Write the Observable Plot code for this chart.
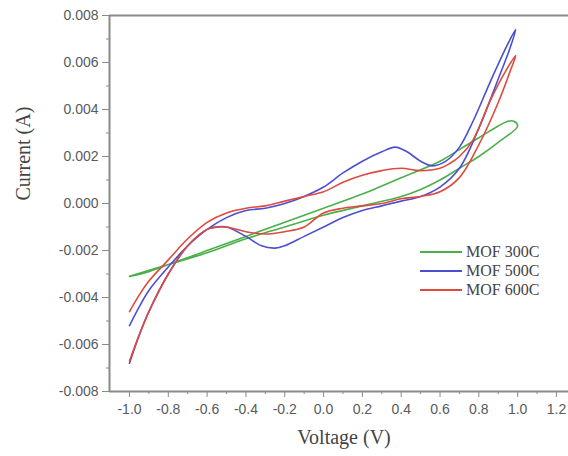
<!DOCTYPE html>
<html><head><meta charset="utf-8">
<script src="https://cdn.jsdelivr.net/npm/d3@7"></script>
<script src="https://cdn.jsdelivr.net/npm/@observablehq/plot@0.6"></script>
<style>
html,body{margin:0;padding:0;background:#fff;}
#wrap{position:relative;width:568px;height:456px;overflow:hidden;background:#fff;}
#legend{position:absolute;left:420px;top:242px;font-family:"Liberation Serif","Times New Roman",serif;font-size:16px;color:#444;}
.row{display:flex;align-items:center;height:19px;white-space:nowrap;}
.sw{width:42px;height:0;border-top:2px solid;margin-right:4px;}
</style></head><body><div id="wrap"></div>
<script>
const seriesNames = ["MOF 300C", "MOF 500C", "MOF 600C"];
const seriesColors = ["#4cb04a", "#4b4fd2", "#de4a3e"];

const xTicks = [-1.0, -0.8, -0.6, -0.4, -0.2, 0.0, 0.2, 0.4, 0.6, 0.8, 1.0, 1.2];
const xMinor = [-0.9, -0.7, -0.5, -0.3, -0.1, 0.1, 0.3, 0.5, 0.7, 0.9, 1.1];
const yTicks = [-0.008, -0.006, -0.004, -0.002, 0.0, 0.002, 0.004, 0.006, 0.008];
const yMinor = [-0.007, -0.005, -0.003, -0.001, 0.001, 0.003, 0.005, 0.007];

// MOF 300C (closed loop)
const mof300V = [-1.0, -0.9, -0.8, -0.6, -0.4, -0.2, 0.0, 0.2, 0.4, 0.6, 0.7, 0.8, 0.9, 0.95, 0.98, 1.0,
                 0.9, 0.8, 0.7, 0.6, 0.5, 0.4, 0.2, 0.0, -0.2, -0.4, -0.6, -0.8, -1.0];
const mof300I = [-0.0031, -0.0029, -0.0026, -0.0020, -0.0014, -0.0008, -0.0002, 0.0004, 0.0011, 0.0018, 0.0023, 0.0028, 0.0033, 0.0035, 0.0035, 0.0033,
                 0.0026, 0.0020, 0.0015, 0.0010, 0.0006, 0.0003, -0.0001, -0.0005, -0.0010, -0.0015, -0.0021, -0.0026, -0.0031];

// MOF 500C
const mof500V = [-1.0, -0.95, -0.9, -0.8, -0.7, -0.6, -0.5, -0.4, -0.3, -0.2, -0.1, 0.0, 0.1, 0.2, 0.3, 0.37, 0.43, 0.5, 0.56, 0.63, 0.7, 0.77, 0.86, 0.95, 0.99,
                 0.96, 0.9, 0.8, 0.7, 0.6, 0.5, 0.4, 0.3, 0.2, 0.1, 0.0, -0.1, -0.2, -0.25, -0.32, -0.4, -0.5, -0.55, -0.6, -0.7, -0.8, -0.9, -0.95, -1.0];
const mof500I = [-0.0052, -0.0044, -0.0037, -0.0027, -0.0018, -0.0011, -0.0006, -0.0003, -0.0002, 0.0000, 0.0003, 0.0007, 0.0013, 0.0018, 0.0022, 0.0024, 0.0022, 0.0018, 0.0016, 0.0018, 0.0024, 0.0035, 0.0052, 0.0068, 0.0074,
                 0.0066, 0.0053, 0.0032, 0.0015, 0.0007, 0.0003, 0.0001, -0.0001, -0.0003, -0.0006, -0.0010, -0.0014, -0.0018, -0.0019, -0.0018, -0.0014, -0.0010, -0.0010, -0.0011, -0.0018, -0.0030, -0.0046, -0.0056, -0.0068];

// MOF 600C
const mof600V = [-1.0, -0.95, -0.9, -0.8, -0.7, -0.6, -0.5, -0.4, -0.3, -0.2, -0.1, 0.0, 0.1, 0.2, 0.3, 0.4, 0.5, 0.6, 0.65, 0.7, 0.77, 0.86, 0.95, 0.99,
                 0.96, 0.9, 0.8, 0.7, 0.6, 0.5, 0.4, 0.3, 0.2, 0.1, 0.0, -0.1, -0.2, -0.3, -0.4, -0.5, -0.55, -0.6, -0.7, -0.8, -0.9, -0.95, -1.0];
const mof600I = [-0.0046, -0.0039, -0.0033, -0.0024, -0.0015, -0.0008, -0.0004, -0.0002, -0.0001, 0.0001, 0.0003, 0.0005, 0.0009, 0.0012, 0.0014, 0.0015, 0.0014, 0.0015, 0.0017, 0.0020, 0.0027, 0.0044, 0.0058, 0.0063,
                 0.0056, 0.0043, 0.0025, 0.0011, 0.0005, 0.0003, 0.0002, 0.0000, -0.0001, -0.0002, -0.0004, -0.0010, -0.0012, -0.0013, -0.0012, -0.0010, -0.0010, -0.0011, -0.0018, -0.0030, -0.0046, -0.0056, -0.0067];

const seriesV = [mof300V, mof500V, mof600V];
const seriesI = [mof300I, mof500I, mof600I];
const rows = [];
seriesNames.forEach((name, k) => {
  seriesV[k].forEach((v, j) => rows.push({series: name, v, i: seriesI[k][j]}));
});

const xMin = -1.103, xMax = 1.262;
const axisColor = "#8a8a8a";
const chart = Plot.plot({
  width: 568, height: 456,
  marginLeft: 109, marginRight: 0, marginTop: 15, marginBottom: 65,
  style: {fontFamily: "'Liberation Sans', Arial, sans-serif", fontSize: "14px", color: "#5a5a5a", background: "white"},
  x: {domain: [xMin, xMax]},
  y: {domain: [-0.008, 0.008]},
  color: {domain: seriesNames, range: seriesColors},
  marks: [
    Plot.axisX(xMinor, {tickSize: 3, tickFormat: () => "", stroke: axisColor, label: null}),
    Plot.axisX(xTicks, {tickSize: 6, tickPadding: 7, tickFormat: d => d.toFixed(1), stroke: axisColor, label: null}),
    Plot.axisY(yMinor, {tickSize: 3, tickFormat: () => "", stroke: axisColor, label: null}),
    Plot.axisY(yTicks, {tickSize: 7, tickPadding: 4, tickFormat: d => d.toFixed(3), stroke: axisColor, label: null}),
    Plot.line(rows, {x: "v", y: "i", z: "series", stroke: "series", strokeWidth: 1.6, curve: "catmull-rom"}),
    Plot.ruleX([xMin], {stroke: axisColor, strokeWidth: 2}),
    Plot.ruleY([-0.008, 0.008], {stroke: axisColor, strokeWidth: 2}),
    Plot.text(["Voltage (V)"], {frameAnchor: "bottom", dx: 5, dy: 52, fontFamily: "'Liberation Serif', 'Times New Roman', serif", fontSize: 20, fill: "#444"}),
    Plot.text(["Current (A)"], {frameAnchor: "left", dx: -86, dy: -3, rotate: -90, fontFamily: "'Liberation Serif', 'Times New Roman', serif", fontSize: 20, fill: "#444"})
  ]
});
const wrap = document.getElementById("wrap");
wrap.appendChild(chart);

const legend = document.createElement("div");
legend.id = "legend";
seriesNames.forEach((name, k) => {
  const row = document.createElement("div");
  row.className = "row";
  const sw = document.createElement("span");
  sw.className = "sw";
  sw.style.borderTopColor = seriesColors[k];
  const t = document.createElement("span");
  t.textContent = name;
  row.appendChild(sw); row.appendChild(t);
  legend.appendChild(row);
});
wrap.appendChild(legend);
</script></body></html>
